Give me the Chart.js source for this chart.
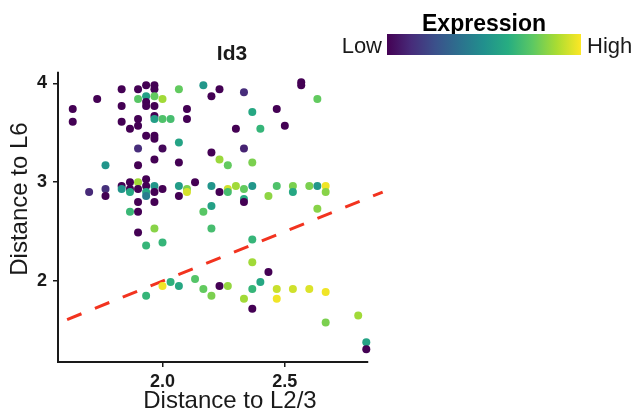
<!DOCTYPE html>
<html><head><meta charset="utf-8">
<script src="https://cdn.jsdelivr.net/npm/chart.js@4/dist/chart.umd.min.js"></script>
<style>html,body{margin:0;padding:0;background:#fff;}canvas{display:block;}</style>
</head><body>
<canvas id="c" width="638" height="416"></canvas>
<script>
// ---- text ----
const chartTitle = "Id3";
const xAxisTitle = "Distance to L2/3";
const yAxisTitle = "Distance to L6";
const legendTitle = "Expression";
const legendLow = "Low";
const legendHigh = "High";

// ---- ticks ----
const xTicks = [2.0, 2.5];
const yTicks = [2, 3, 4];

// ---- data (one entry per cell) ----
const distL23 = [
1.833,1.900,1.933,1.967,1.967,2.067,2.167,2.233,1.733,1.900,
1.933,1.967,2.000,2.200,1.633,1.833,1.933,1.933,1.967,2.100,
1.633,1.833,1.900,1.967,1.967,2.000,2.033,2.100,1.900,1.867,
1.933,1.967,1.967,2.067,1.900,2.000,2.200,1.967,2.233,2.333,
2.567,2.567,2.633,2.367,2.467,2.300,2.400,2.500,2.333,2.067,
1.767,1.900,2.267,2.367,1.867,1.900,1.933,1.833,1.933,1.967,
2.067,2.100,2.133,2.200,1.700,1.767,1.767,1.833,1.867,1.867,
1.900,1.933,1.933,1.967,2.000,2.067,2.100,2.233,1.900,1.967,
2.200,1.867,1.900,2.167,1.900,1.967,2.200,2.000,1.933,2.267,
2.267,2.300,2.333,2.333,2.333,2.367,2.433,2.467,2.533,2.533,
2.600,2.633,2.667,2.667,2.633,2.367,1.933,2.000,2.033,2.067,
2.133,2.167,2.200,2.233,2.267,2.333,2.367,2.367,2.367,2.400,
2.433,2.467,2.467,2.533,2.600,2.667,2.667,2.800,2.833,2.833
];
const distL6 = [
3.94,3.94,3.98,3.98,3.94,3.94,3.98,3.94,3.84,3.84,
3.87,3.87,3.84,3.87,3.74,3.77,3.81,3.77,3.77,3.74,
3.61,3.61,3.64,3.67,3.64,3.64,3.64,3.64,3.57,3.54,
3.47,3.47,3.44,3.40,3.34,3.34,3.30,3.23,3.23,3.91,
4.01,3.98,3.84,3.71,3.74,3.54,3.54,3.57,3.34,3.20,
3.17,3.17,3.17,3.20,3.00,3.00,3.03,2.96,2.96,2.96,
2.96,2.93,3.00,2.96,2.90,2.93,2.86,2.93,2.93,2.90,
2.93,2.90,2.86,2.90,2.93,2.86,2.90,2.90,2.80,2.80,
2.76,2.70,2.70,2.70,2.49,2.53,2.53,2.39,2.36,2.93,
2.90,2.96,2.93,2.83,2.80,2.96,2.86,2.96,2.96,2.90,
2.96,2.96,2.96,2.90,2.73,2.42,1.85,1.95,1.99,1.95,
2.02,1.92,1.85,1.95,1.95,1.82,2.19,1.92,1.72,1.99,
2.09,1.92,1.82,1.92,1.92,1.89,1.58,1.65,1.38,1.31
];
const expression = [
0.00,0.00,0.00,0.00,0.00,0.76,0.53,0.00,0.00,0.74,
0.57,0.76,0.86,0.00,0.00,0.00,0.00,0.00,0.00,0.00,
0.00,0.00,0.00,0.00,0.56,0.72,0.70,0.00,0.00,0.00,
0.00,0.00,0.00,0.58,0.13,0.02,0.00,0.00,0.85,0.13,
0.00,0.00,0.76,0.60,0.00,0.00,0.66,0.00,0.10,0.00,
0.52,0.00,0.76,0.80,0.00,0.86,0.00,0.00,0.00,0.53,
0.55,0.80,0.00,0.52,0.12,0.14,0.00,0.52,0.00,0.60,
0.00,0.60,0.42,0.00,0.00,0.00,0.94,0.00,0.00,0.00,
0.57,0.67,0.00,0.74,0.00,0.82,0.70,0.66,0.66,0.93,
0.70,0.86,0.76,0.62,0.00,0.53,0.83,0.72,0.80,0.60,
0.80,0.53,0.98,0.82,0.82,0.66,0.66,0.98,0.64,0.60,
0.73,0.76,0.80,0.00,0.84,0.86,0.86,0.66,0.00,0.60,
0.00,0.92,0.98,0.93,0.95,0.98,0.80,0.86,0.58,0.00
];

// ---- reference line y = x ----
const refX = [1.61, 2.90];
const refY = [1.61, 2.90];

// ---- viridis colour scale ----
const viridisStops = ["#440154","#472c7a","#3b518b","#2c718e","#21908d","#27ad81","#5cc863","#aadc32","#fde725"];
function hexToRgb(h){return [parseInt(h.slice(1,3),16),parseInt(h.slice(3,5),16),parseInt(h.slice(5,7),16)];}
function viridis(t){
  t = Math.max(0, Math.min(1, t));
  const n = viridisStops.length - 1;
  const i = Math.min(n - 1, Math.floor(t * n));
  const f = t * n - i;
  const a = hexToRgb(viridisStops[i]), b = hexToRgb(viridisStops[i+1]);
  const c = a.map((v,k)=>Math.round(v + (b[k]-v)*f));
  return `rgb(${c[0]},${c[1]},${c[2]})`;
}

const points = distL23.map((x,i)=>({x:x, y:distL6[i]}));
const pointColors = expression.map(viridis);
const refLine = refX.map((x,i)=>({x:x, y:refY[i]}));

const FONT = '"Liberation Sans", Arial, Helvetica, sans-serif';
Chart.defaults.font.family = FONT;
const INK = '#1a1a1a';

const overlay = {
  id: 'overlay',
  afterDraw(chart){
    const {ctx, chartArea, scales:{x, y}} = chart;
    ctx.save();
    // capped axis lines
    ctx.strokeStyle = INK; ctx.lineWidth = 2; ctx.lineCap = 'butt';
    ctx.beginPath();
    ctx.moveTo(chartArea.left, y.getPixelForValue(4.117));
    ctx.lineTo(chartArea.left, chartArea.bottom + 1);
    ctx.moveTo(chartArea.left - 1, chartArea.bottom);
    ctx.lineTo(x.getPixelForValue(2.841), chartArea.bottom);
    ctx.stroke();
    // title
    ctx.fillStyle = INK;
    ctx.textBaseline = 'alphabetic';
    ctx.textAlign = 'center';
    ctx.font = 'bold 21px ' + FONT;
    ctx.fillText(chartTitle, 232, 60);
    // legend
    ctx.fillStyle = '#000';
    ctx.font = 'bold 23px ' + FONT;
    ctx.fillText(legendTitle, 484, 31);
    const gx = 387, gy = 34, gw = 194, gh = 21;
    const grad = ctx.createLinearGradient(gx, 0, gx + gw, 0);
    viridisStops.forEach((c,i)=>grad.addColorStop(i/(viridisStops.length-1), c));
    ctx.fillStyle = grad;
    ctx.fillRect(gx, gy, gw, gh);
    ctx.fillStyle = INK;
    ctx.font = '22px ' + FONT;
    ctx.textAlign = 'right';
    ctx.fillText(legendLow, 382, 53);
    ctx.textAlign = 'left';
    ctx.fillText(legendHigh, 587, 53);
    ctx.restore();
  }
};

new Chart(document.getElementById('c'), {
  type: 'scatter',
  data: {
    datasets: [
      {
        label: 'cells',
        data: points,
        pointRadius: 4,
        pointHoverRadius: 4,
        pointBorderWidth: 0,
        pointBackgroundColor: pointColors,
        pointBorderColor: pointColors
      },
      {
        label: 'y = x',
        type: 'line',
        data: refLine,
        borderColor: '#F2331F',
        borderWidth: 3,
        borderDash: [15.5, 14.5],
        borderCapStyle: 'butt',
        pointRadius: 0,
        fill: false,
        clip: false
      }
    ]
  },
  options: {
    responsive: false,
    animation: false,
    devicePixelRatio: 1,
    layout: { padding: { left: 0, right: 236, top: 36, bottom: 0 } },
    plugins: { legend: { display: false }, tooltip: { enabled: false }, title: { display: false } },
    scales: {
      x: {
        type: 'linear',
        min: 1.5728, max: 2.979,
        afterFit(s){ s.height = 54; },
        afterBuildTicks(s){ s.ticks = xTicks.map(v=>({value:v})); },
        border: { display: false },
        grid: { display: true, drawOnChartArea: false, drawTicks: true, tickLength: 5, color: INK, lineWidth: 1.5 },
        ticks: { padding: 4, color: INK, font: { size: 18, weight: 'bold' }, maxRotation: 0,
                 callback: v => Number(v).toFixed(1) },
        title: { display: true, text: xAxisTitle, color: INK, font: { size: 24 }, padding: { top: 0, bottom: 0 } }
      },
      y: {
        type: 'linear',
        min: 1.1806, max: 4.4785,
        afterFit(s){ s.width = 58; },
        afterBuildTicks(s){ s.ticks = yTicks.map(v=>({value:v})); },
        border: { display: false },
        grid: { display: true, drawOnChartArea: false, drawTicks: true, tickLength: 5, color: INK, lineWidth: 1.5 },
        ticks: { padding: 6, color: INK, font: { size: 18, weight: 'bold' },
                 callback: v => String(v) },
        title: { display: true, text: yAxisTitle, color: INK, font: { size: 24 }, padding: { top: 6, bottom: 0 } }
      }
    }
  },
  plugins: [overlay]
});
</script>
</body></html>
